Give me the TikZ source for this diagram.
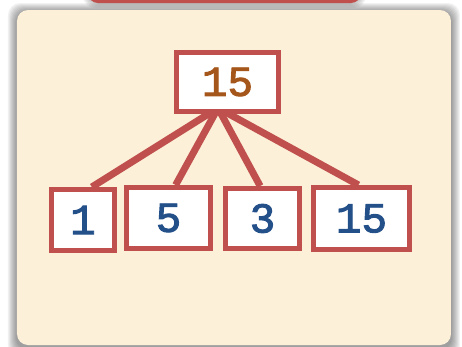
\documentclass[tikz,border=0pt]{standalone}
\usepackage{fontspec}
\newfontfamily\numfont[FakeBold=2.2]{Liberation Mono}
\usetikzlibrary{calc,backgrounds}
\definecolor{panelfill}{HTML}{FCF0D9}
\definecolor{boxred}{HTML}{C0504D}
\definecolor{numblue}{HTML}{24508A}
\definecolor{numbrown}{HTML}{A5561A}
\tikzset{
  numbox/.style={draw=boxred, line width=3.75pt, fill=white, inner sep=0pt,
    font=\numfont\fontsize{32}{32}\selectfont, text=numblue},
  link/.style={draw=boxred, line width=5.25pt, line cap=butt},
  shade/.style={fill=black, opacity=0.05, rounded corners=12*0.75pt}
}
\begin{document}
\begin{tikzpicture}[x=0.75pt,y=-0.75pt]
\useasboundingbox (0,0) rectangle (462,347);
% nodes
\node[numbox, text=numbrown, minimum width=76.5pt, minimum height=44.25pt] (top) at (227.5,82) {15};
\node[numbox, minimum width=47.25pt, minimum height=45.75pt] (n1) at (83,220) {1};
\node[numbox, minimum width=63pt, minimum height=45.75pt] (n5) at (168.5,218) {5};
\node[numbox, minimum width=55.5pt, minimum height=45pt] (n3) at (262.5,218.5) {3};
\node[numbox, minimum width=72pt, minimum height=46.5pt] (n15) at (361.5,218.5) {15};
\coordinate (hub) at (218,108);
\begin{pgfonlayer}{background}
  % top tab shadow and tab
  \foreach \d in {1,2,3,4,5} {
    \fill[shade] (88-\d,-20) rectangle (361+\d,3+\d);
  }
  \fill[boxred, rounded corners=10*0.75pt] (88,-20) rectangle (361,3);
  % panel shadow
  \foreach \d in {1,2,...,9} {
    \fill[shade] (17-\d,10-\d+2) rectangle (451+\d,347+\d+2);
  }
  \fill[panelfill, rounded corners=11*0.75pt] (17,10) rectangle (451,345);
  % connectors
  \draw[link] (hub) -- ($(n1.north west)!0.63!(n1.north east)$);
  \draw[link] (hub) -- ($(n5.north west)!0.58!(n5.north east)$);
  \draw[link] (hub) -- ($(n3.north west)!0.47!(n3.north east)$);
  \draw[link] (hub) -- ($(n15.north west)!0.47!(n15.north east)$);
\end{pgfonlayer}
\end{tikzpicture}
\end{document}
